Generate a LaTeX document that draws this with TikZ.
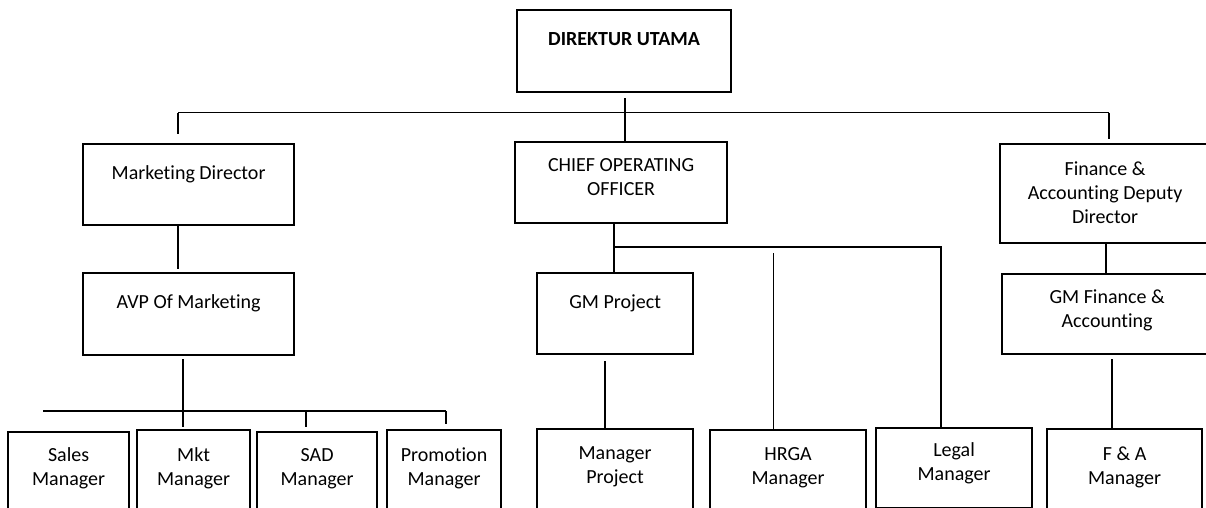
\documentclass[tikz,border=0pt]{standalone}
\usepackage{fontspec}
\setmainfont{Carlito}[Ligatures=NoCommon]
\usetikzlibrary{positioning,calc}

\newcommand{\orgtext}[4][19pt]{\parbox[t][#3][t]{#2}{\centering\vspace*{#1}\strut#4}}

\tikzset{
	unit/.style={draw, line width=2.2pt, inner sep=0pt, anchor=north west, font=\fontsize{20}{24}\selectfont},
	link/.style={line width=1.8pt},
	midlink/.style={line width=1.4pt},
	thinlink/.style={line width=1pt}
}

\begin{document}
\begin{tikzpicture}[x=1pt,y=-1pt]
	\path[fill=white] (0,0) rectangle (1206,508);
	\useasboundingbox (0,0) rectangle (1206,508);

	% boxes
	\node[unit] (du) at (516,9) {\orgtext{214pt}{82pt}{\bfseries DIREKTUR UTAMA}};
	\node[unit] (md) at (82,143) {\orgtext{211pt}{81pt}{Marketing Director}};
	\node[unit] (coo) at (514,141) {\orgtext[13pt]{212pt}{81pt}{CHIEF OPERATING\\OFFICER}};
	\node[unit] (fin) at (999,143) {\orgtext[15pt]{210pt}{99pt}{Finance \&\\Accounting Deputy\\Director}};
	\node[unit] (avp) at (82,272) {\orgtext{211pt}{82pt}{AVP Of Marketing}};
	\node[unit] (gmp) at (536,272) {\orgtext{156pt}{81pt}{GM Project}};
	\node[unit] (gmf) at (1001,273) {\orgtext[13pt]{210pt}{80pt}{GM Finance \&\\Accounting}};

	\node[unit] (sales) at (7,431) {\orgtext[13pt]{121pt}{90pt}{Sales\\Manager}};
	\node[unit] (mkt) at (136,429) {\orgtext[15pt]{113pt}{90pt}{Mkt\\Manager}};
	\node[unit] (sad) at (256,431) {\orgtext[13pt]{120pt}{90pt}{SAD\\Manager}};
	\node[unit] (promo) at (386,429) {\orgtext[15pt]{114pt}{90pt}{Promotion\\Manager}};
	\node[unit] (mp) at (536,428) {\orgtext[14pt]{156pt}{90pt}{Manager\\Project}};
	\node[unit] (hrga) at (709,429) {\orgtext[14pt]{156pt}{90pt}{HRGA\\Manager}};
	\node[unit] (legal) at (875,427) {\orgtext[12pt]{156pt}{80pt}{Legal\\Manager}};
	\node[unit] (fa) at (1046,428) {\orgtext[15pt]{155pt}{90pt}{F \& A\\Manager}};

	% guides
	\coordinate (hub) at (625,113);
	\coordinate (busL) at (178,113);
	\coordinate (busR) at (1109,113);
	\coordinate (mbus) at (183,411);
	\coordinate (cbus) at (614,247);
	\coordinate (cbusR) at (941,247);
	\coordinate (hrgaTop) at (773,253);
	\coordinate (mpX) at (605,0);
	\coordinate (finX) at (1106,0);
	\coordinate (faX) at (1112,0);

	% top level
	\draw[thinlink] (busL) -- (busR);
	\draw[link, shorten <=5pt] (du.south -| hub) -- (coo.north -| hub);
	\draw[link] (busL) -- ++(0,21);
	\draw[link] (busR) -- ++(0,26);

	% marketing
	\draw[link, shorten >=3pt] (md.south -| busL) -- (avp.north -| busL);
	\draw[link, shorten <=3pt] (avp.south -| mbus) -- (mbus);
	\draw[link] (43,411) -- (446,411);
	\foreach \x/\l in {183/16, 306/16, 446/13}
		\draw[link] (\x,411) -- ++(0,\l);

	% operations
	\draw[link] (coo.south -| cbus) -- (gmp.north -| cbus);
	\draw[link] (cbus) -- (cbusR) -- (legal.north -| cbusR);
	\draw[thinlink] (hrgaTop) -- (hrga.north -| hrgaTop);
	\draw[midlink, shorten <=6pt] (gmp.south -| mpX) -- (mp.north -| mpX);

	% finance
	\draw[link] (fin.south -| finX) -- (gmf.north -| finX);
	\draw[midlink, shorten <=4pt] (gmf.south -| faX) -- (fa.north -| faX);
\end{tikzpicture}
\end{document}
